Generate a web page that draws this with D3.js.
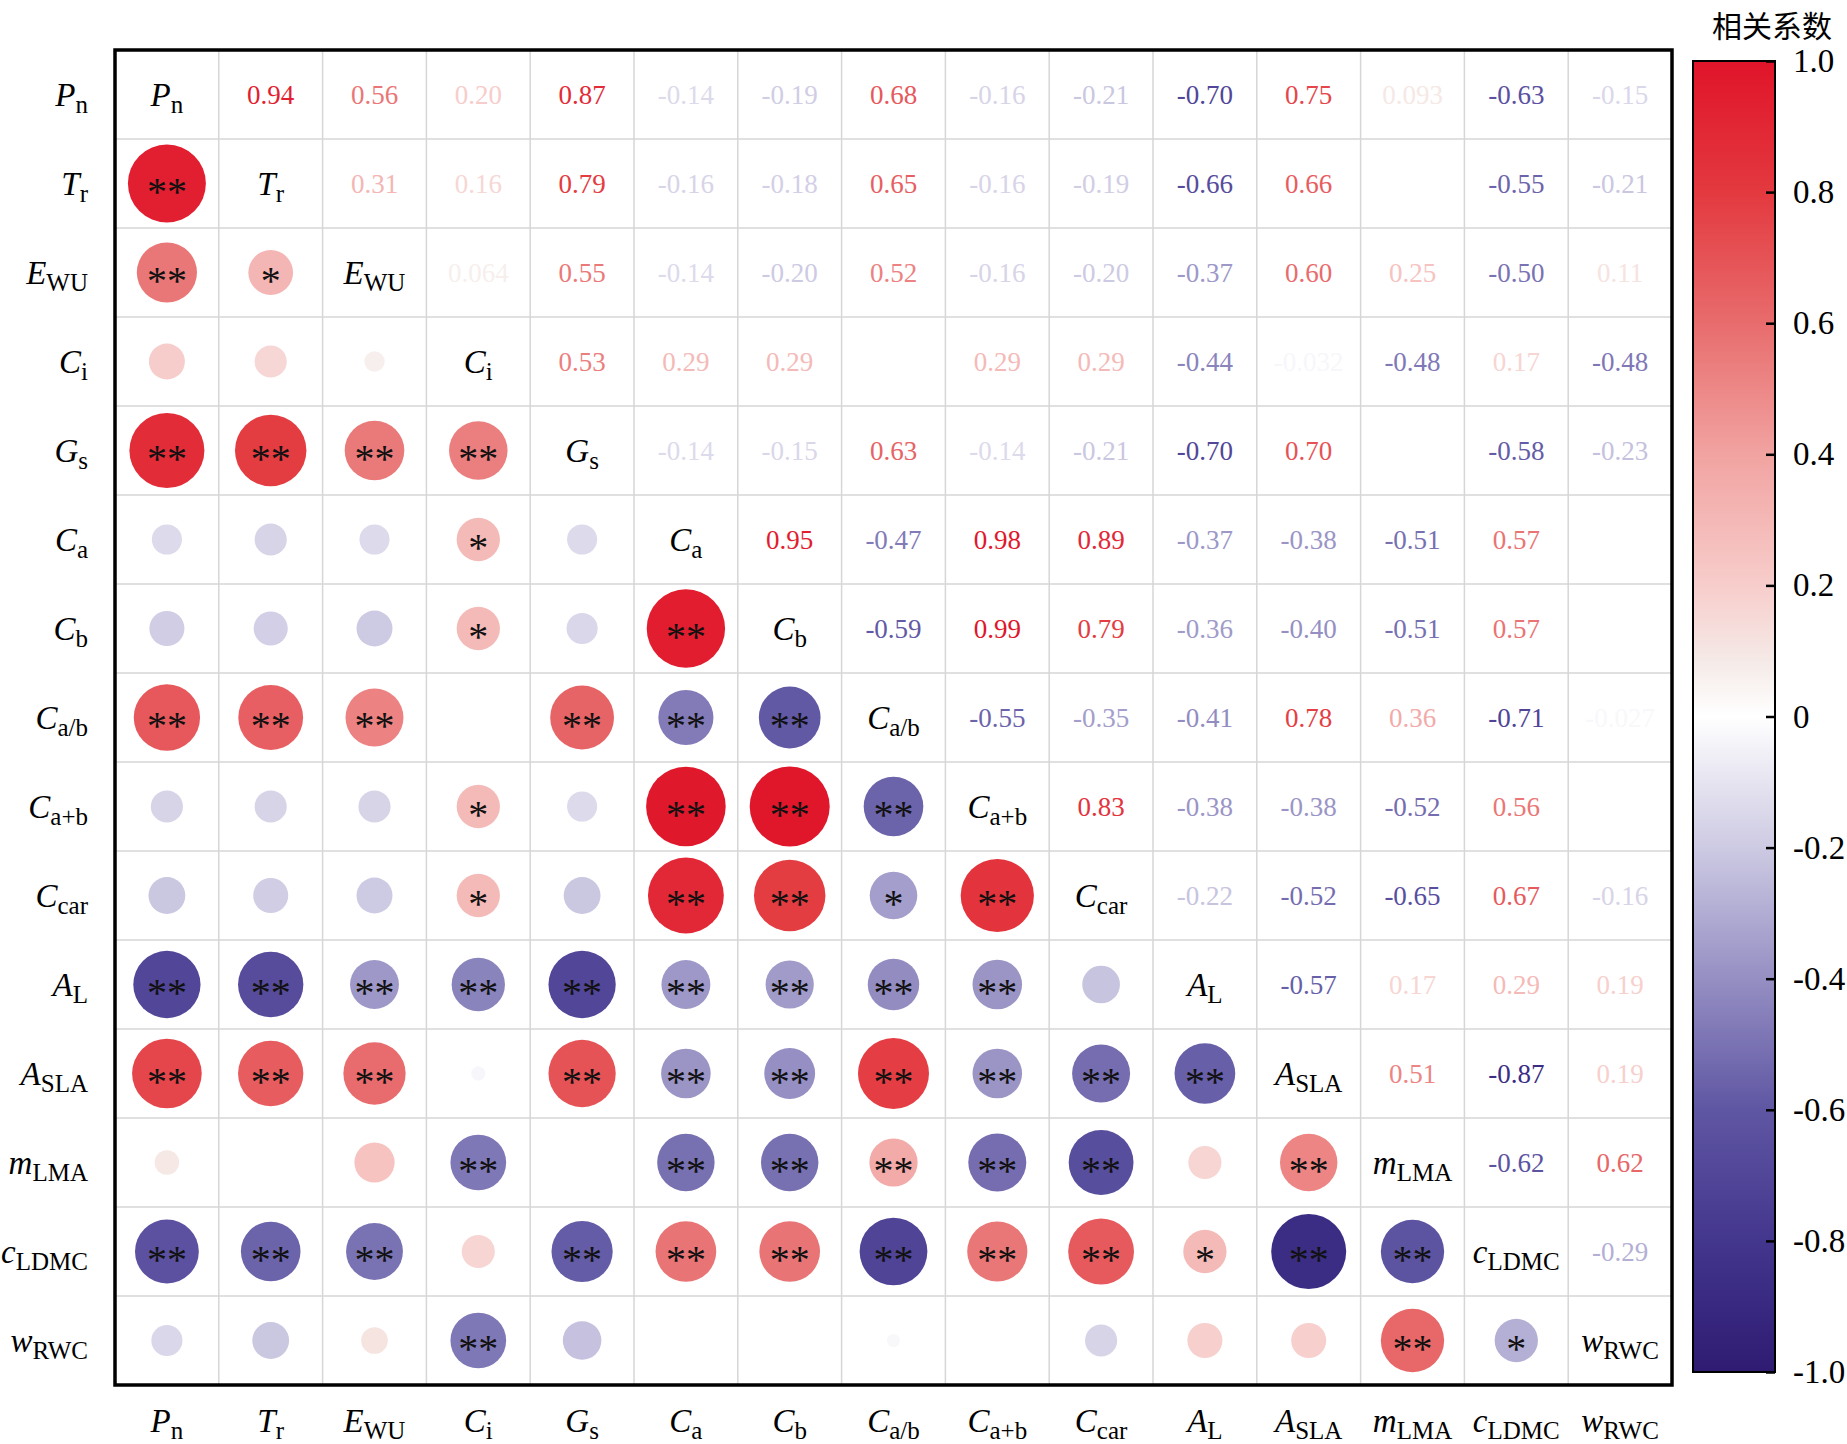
<!DOCTYPE html>
<html>
<head>
<meta charset="utf-8">
<script src="https://cdn.jsdelivr.net/npm/d3@7"></script>
<style>
    body { margin: 0; background: #fff; }
    svg { display: block; }
</style>
</head>
<body>
<svg id="chart"></svg>
<script>
// variable names: italic main symbol + upright subscript
const varMain = ['P', 'T', 'E', 'C', 'G', 'C', 'C', 'C', 'C', 'C', 'A', 'A', 'm', 'c', 'w'];
const varSub = ['n', 'r', 'WU', 'i', 's', 'a', 'b', 'a/b', 'a+b', 'car', 'L', 'SLA', 'LMA', 'LDMC', 'RWC'];

// upper triangle, row i holds r(i, j) for j > i; null = cell left blank in the figure
const corrUpper = [
    [0.94, 0.56, 0.20, 0.87, -0.14, -0.19, 0.68, -0.16, -0.21, -0.70, 0.75, 0.093, -0.63, -0.15],
    [0.31, 0.16, 0.79, -0.16, -0.18, 0.65, -0.16, -0.19, -0.66, 0.66, null, -0.55, -0.21],
    [0.064, 0.55, -0.14, -0.20, 0.52, -0.16, -0.20, -0.37, 0.60, 0.25, -0.50, 0.11],
    [0.53, 0.29, 0.29, null, 0.29, 0.29, -0.44, -0.032, -0.48, 0.17, -0.48],
    [-0.14, -0.15, 0.63, -0.14, -0.21, -0.70, 0.70, null, -0.58, -0.23],
    [0.95, -0.47, 0.98, 0.89, -0.37, -0.38, -0.51, 0.57, null],
    [-0.59, 0.99, 0.79, -0.36, -0.40, -0.51, 0.57, null],
    [-0.55, -0.35, -0.41, 0.78, 0.36, -0.71, -0.027],
    [0.83, -0.38, -0.38, -0.52, 0.56, null],
    [-0.22, -0.52, -0.65, 0.67, -0.16],
    [-0.57, 0.17, 0.29, 0.19],
    [0.51, -0.87, 0.19],
    [-0.62, 0.62],
    [-0.29],
];

// significance marks in the lower triangle, row i holds cols 0..i-1
const sigLower = [
    [],
    ['**'],
    ['**', '*'],
    ['', '', ''],
    ['**', '**', '**', '**'],
    ['', '', '', '*', ''],
    ['', '', '', '*', '', '**'],
    ['**', '**', '**', '', '**', '**', '**'],
    ['', '', '', '*', '', '**', '**', '**'],
    ['', '', '', '*', '', '**', '**', '*', '**'],
    ['**', '**', '**', '**', '**', '**', '**', '**', '**', ''],
    ['**', '**', '**', '', '**', '**', '**', '**', '**', '**', '**'],
    ['', '', '', '**', '', '**', '**', '**', '**', '**', '', '**'],
    ['**', '**', '**', '', '**', '**', '**', '**', '**', '**', '*', '**', '**'],
    ['', '', '', '**', '', '', '', '', '', '', '', '', '**', '*'],
];

const legendTicks = [1.0, 0.8, 0.6, 0.4, 0.2, 0, -0.2, -0.4, -0.6, -0.8, -1.0];
const legendTitle = '相关系数';

const colorStops = [-1, -0.8, -0.6, -0.4, -0.2, -0.08, 0, 0.08, 0.2, 0.4, 0.6, 0.8, 1];
const colorRange = ['#2f1b72', '#43368d', '#5f56a3', '#958fc3', '#cdcae3', '#ebe9f3', '#ffffff',
    '#f5ebe8', '#f7cdcb', '#f1a3a1', '#e86c6d', '#e3393f', '#e0142a'];

class CorrPlot {
    frame = { left: 115, top: 50, right: 1672, bottom: 1385 };
    bar = { left: 1693, right: 1775, top: 61, bottom: 1372 };
    serif = '"Liberation Serif", "Times New Roman", serif';

    constructor(svg, width = 1847, height = 1444) {
        this.svg = d3.select(svg);
        this.width = width;
        this.height = height;
    }

    initialize() {
        this.svg.attr('width', this.width).attr('height', this.height);
        const n = varMain.length;
        this.xScale = d3.scaleBand().domain(d3.range(n)).range([this.frame.left, this.frame.right]);
        this.yScale = d3.scaleBand().domain(d3.range(n)).range([this.frame.top, this.frame.bottom]);
        this.rScale = d3.scaleSqrt().domain([0, 1]).range([0, 40.2]);
        this.zScale = d3.scaleLinear().domain(colorStops).range(colorRange).interpolate(d3.interpolateRgb);

        this.cells = [];
        corrUpper.forEach((row, i) => {
            row.forEach((v, k) => {
                const j = i + 1 + k;
                this.cells.push({ row: i, col: j, value: v, type: 'text' });
                this.cells.push({ row: j, col: i, value: v, type: 'circle', sig: sigLower[j][i] });
            });
        });
    }

    label(sel, i, mainSize = 33, subSize = 25) {
        sel.attr('font-family', this.serif).attr('font-size', mainSize).attr('fill', '#000');
        sel.append('tspan').attr('font-style', 'italic').text(varMain[i]);
        sel.append('tspan').attr('font-size', subSize).attr('dy', 7).text(varSub[i]);
    }

    update() {
        const x = this.xScale, y = this.yScale;
        const cx = d => x(d) + x.bandwidth() / 2;
        const cy = d => y(d) + y.bandwidth() / 2;
        const n = varMain.length;

        // grid
        const grid = this.svg.append('g').attr('stroke', '#d6d6d6').attr('stroke-width', 1.5);
        grid.selectAll('.vl').data(d3.range(1, n)).join('line')
            .attr('x1', d => x(d)).attr('x2', d => x(d))
            .attr('y1', this.frame.top).attr('y2', this.frame.bottom);
        grid.selectAll('.hl').data(d3.range(1, n)).join('line')
            .attr('y1', d => y(d)).attr('y2', d => y(d))
            .attr('x1', this.frame.left).attr('x2', this.frame.right);

        const shown = this.cells.filter(d => d.value !== null);

        this.svg.append('g').selectAll('text')
            .data(shown.filter(d => d.type === 'text'))
            .join('text')
            .attr('x', d => cx(d.col))
            .attr('y', d => cy(d.row) + 9)
            .attr('text-anchor', 'middle')
            .attr('font-family', this.serif)
            .attr('font-size', 27)
            .attr('fill', d => this.zScale(d.value))
            .text(d => String(d.value).replace(/^(-?0\.\d)$/, '$10'));

        const circ = this.svg.append('g');
        circ.selectAll('circle')
            .data(shown.filter(d => d.type === 'circle'))
            .join('circle')
            .attr('cx', d => cx(d.col))
            .attr('cy', d => cy(d.row))
            .attr('r', d => this.rScale(Math.abs(d.value)))
            .attr('fill', d => this.zScale(d.value));
        circ.selectAll('text')
            .data(shown.filter(d => d.type === 'circle' && d.sig))
            .join('text')
            .attr('x', d => cx(d.col))
            .attr('y', d => cy(d.row) + 21)
            .attr('text-anchor', 'middle')
            .attr('font-family', this.serif)
            .attr('font-size', 40)
            .attr('fill', '#111')
            .text(d => d.sig);

        // diagonal, row and column labels
        this.svg.append('g').selectAll('text').data(d3.range(n)).join('text')
            .attr('x', d => cx(d)).attr('y', d => cy(d) + 11)
            .attr('text-anchor', 'middle')
            .each((d, k, nodes) => this.label(d3.select(nodes[k]), d));
        this.svg.append('g').selectAll('text').data(d3.range(n)).join('text')
            .attr('x', 88).attr('y', d => cy(d) + 11)
            .attr('text-anchor', 'end')
            .each((d, k, nodes) => this.label(d3.select(nodes[k]), d));
        this.svg.append('g').selectAll('text').data(d3.range(n)).join('text')
            .attr('x', d => cx(d)).attr('y', 1432)
            .attr('text-anchor', 'middle')
            .each((d, k, nodes) => this.label(d3.select(nodes[k]), d));

        this.svg.append('rect')
            .attr('x', this.frame.left).attr('y', this.frame.top)
            .attr('width', this.frame.right - this.frame.left)
            .attr('height', this.frame.bottom - this.frame.top)
            .attr('fill', 'none').attr('stroke', '#000').attr('stroke-width', 3.5);

        this.drawLegend();
    }

    drawLegend() {
        const b = this.bar;
        const grad = this.svg.append('defs').append('linearGradient')
            .attr('id', 'cbar').attr('x1', 0).attr('x2', 0).attr('y1', 0).attr('y2', 1);
        grad.selectAll('stop').data(colorStops.slice().reverse()).join('stop')
            .attr('offset', d => (1 - d) / 2)
            .attr('stop-color', d => this.zScale(d));

        this.svg.append('rect')
            .attr('x', b.left).attr('y', b.top)
            .attr('width', b.right - b.left).attr('height', b.bottom - b.top)
            .attr('fill', 'url(#cbar)').attr('stroke', '#000').attr('stroke-width', 2);

        const yBar = d3.scaleLinear().domain([1, -1]).range([b.top, b.bottom]);
        const axis = this.svg.append('g')
            .attr('transform', `translate(${b.right}, 0)`)
            .call(d3.axisRight(yBar)
                .tickValues(legendTicks)
                .tickSizeInner(-9)
                .tickSizeOuter(0)
                .tickPadding(18)
                .tickFormat(d => (d === 0 ? '0' : d.toFixed(1))));
        axis.select('.domain').remove();
        axis.selectAll('line').attr('stroke', '#000').attr('stroke-width', 2.5);
        axis.selectAll('text')
            .attr('font-family', this.serif)
            .attr('font-size', 33)
            .attr('fill', '#000');

        this.svg.append('text')
            .attr('x', 1772).attr('y', 37)
            .attr('text-anchor', 'middle')
            .attr('font-family', '"Noto Sans CJK SC", sans-serif')
            .attr('font-size', 30)
            .text(legendTitle);
    }
}

const plot = new CorrPlot('#chart');
plot.initialize();
plot.update();
</script>
</body>
</html>
